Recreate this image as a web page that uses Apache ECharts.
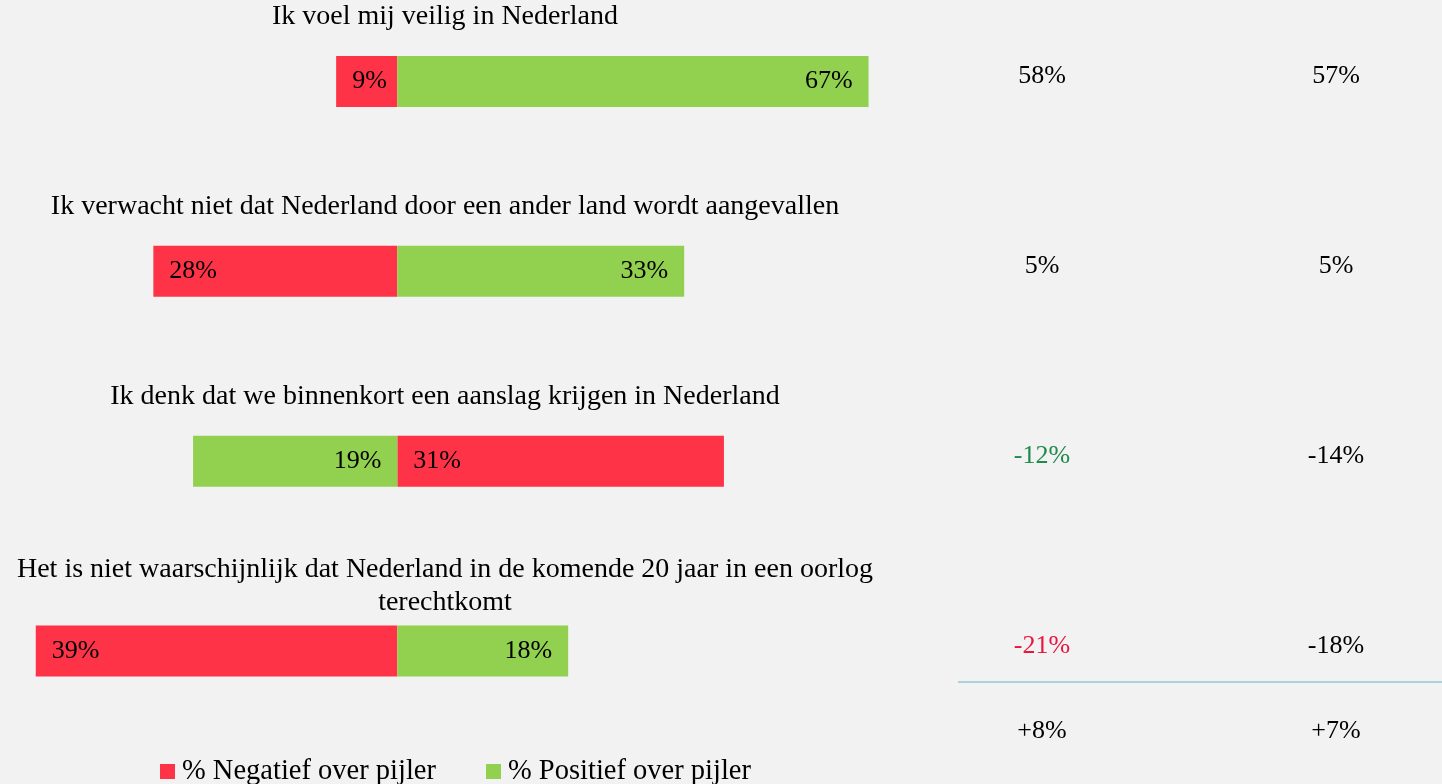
<!DOCTYPE html>
<html>

<head>
  <meta charset="UTF-8">
  <title>Veiligheid in Nederland</title>
  <script src="https://cdn.jsdelivr.net/npm/echarts@6/dist/echarts.min.js"></script>
  <style>
    html, body { margin: 0; padding: 0; background: #f2f2f2; }
  </style>
</head>

<body>
  <div id="main" style="width: 1442px;height:784px;"></div>
  <script type="text/javascript">
    // stellingen (categorieen)
    var categories = [
      'Ik voel mij veilig in Nederland',
      'Ik verwacht niet dat Nederland door een ander land wordt aangevallen',
      'Ik denk dat we binnenkort een aanslag krijgen in Nederland',
      'Het is niet waarschijnlijk dat Nederland in de komende 20 jaar in een oorlog\nterechtkomt'
    ];
    // lengte van de balken zoals getekend (links van 0 = negatief)
    var negBar = [-7.7, -30.7, 41.1, -45.5];
    var posBar = [59.3, 36.1, -25.7, 21.5];
    // percentages in de balken
    var negPct = [9, 28, 31, 39];
    var posPct = [67, 33, 19, 18];
    // kolommen rechts
    var colNames = ['kolom 1', 'kolom 2'];
    var colA = [58, 5, -12, -21];
    var colB = [57, 5, -14, -18];
    var totals = [8, 7];

    var RED = '#ff3347';
    var GREEN = '#92d050';
    var FONT = 'Liberation Serif';
    var INK = '#000';
    var xMin = -50, xMax = 62;

    var colAColor = [INK, INK, '#1e8a4c', '#e8163f'];

    var myChart = echarts.init(document.getElementById('main'));

    var rightData = [];
    categories.forEach(function (c, i) {
      rightData.push({ value: [0, i], txt: colA[i] + '%', label: { color: colAColor[i] } });
      rightData.push({ value: [1, i], txt: colB[i] + '%' });
    });

    // onzichtbare punten, alleen voor de teksten
    var hidden = { color: 'transparent', opacity: 1 };

    var option = {
      backgroundColor: '#f2f2f2',
      animation: false,
      textStyle: { fontFamily: FONT },
      legend: {
        data: ['% Negatief over pijler', '% Positief over pijler'],
        left: 155,
        top: 752,
        icon: 'rect',
        itemWidth: 15,
        itemHeight: 15,
        itemGap: 50,
        textStyle: { fontFamily: FONT, fontSize: 28.5, color: INK, padding: [0, 0, 0, 2] }
      },
      grid: [
        { left: 0, right: 552, top: 81.5, bottom: 133 },
        { left: 1042, right: 106, top: 81.5, bottom: 133 }
      ],
      xAxis: [
        { type: 'value', gridIndex: 0, min: xMin, max: xMax, show: false },
        { type: 'category', gridIndex: 1, data: colNames, boundaryGap: false, show: false }
      ],
      yAxis: [
        { type: 'category', gridIndex: 0, data: categories, inverse: true, boundaryGap: false, show: false },
        { type: 'category', gridIndex: 1, data: categories, inverse: true, boundaryGap: false, show: false }
      ],
      graphic: [{
        type: 'line',
        shape: { x1: 958, y1: 682, x2: 1442, y2: 682 },
        style: { stroke: '#a8d5d9', lineWidth: 2 }
      }],
      series: [
        {
          name: '% Negatief over pijler',
          type: 'bar',
          stack: 'pijler',
          barWidth: 51,
          clip: false,
          itemStyle: { color: RED },
          label: {
            show: true,
            position: 'insideLeft',
            distance: 16,
            fontFamily: FONT,
            fontSize: 26,
            color: INK,
            formatter: function (p) { return negPct[p.dataIndex] + '%'; }
          },
          data: negBar
        },
        {
          name: '% Positief over pijler',
          type: 'bar',
          stack: 'pijler',
          barWidth: 51,
          clip: false,
          itemStyle: { color: GREEN },
          label: {
            show: true,
            position: 'insideRight',
            distance: 16,
            fontFamily: FONT,
            fontSize: 26,
            color: INK,
            formatter: function (p) { return posPct[p.dataIndex] + '%'; }
          },
          data: posBar
        },
        { // stelling boven elke balk
          type: 'scatter',
          silent: true,
          clip: false,
          symbolSize: 1,
          itemStyle: hidden,
          label: {
            show: true,
            position: 'inside',
            align: 'center',
            verticalAlign: 'middle',
            offset: [0, -65],
            lineHeight: 33.5,
            fontFamily: FONT,
            fontSize: 28,
            color: INK,
            formatter: function (p) { return categories[p.dataIndex]; }
          },
          data: categories.map(function (c, i) { return [(xMin + xMax) / 2, i]; })
        },
        { // kolommen rechts
          type: 'scatter',
          xAxisIndex: 1,
          yAxisIndex: 1,
          silent: true,
          clip: false,
          symbolSize: 1,
          itemStyle: hidden,
          label: {
            show: true,
            position: 'inside',
            offset: [0, -5],
            fontFamily: FONT,
            fontSize: 26,
            color: INK,
            formatter: function (p) { return p.data.txt; }
          },
          data: rightData
        },
        { // totaalregel onder de lijn
          type: 'scatter',
          xAxisIndex: 1,
          yAxisIndex: 1,
          silent: true,
          clip: false,
          symbolSize: 1,
          itemStyle: hidden,
          label: {
            show: true,
            position: 'inside',
            offset: [0, 80],
            fontFamily: FONT,
            fontSize: 26,
            color: INK,
            formatter: function (p) { return (totals[p.dataIndex] > 0 ? '+' : '') + totals[p.dataIndex] + '%'; }
          },
          data: totals.map(function (t, j) { return [j, categories.length - 1]; })
        }
      ]
    };

    myChart.setOption(option);
  </script>
</body>

</html>
